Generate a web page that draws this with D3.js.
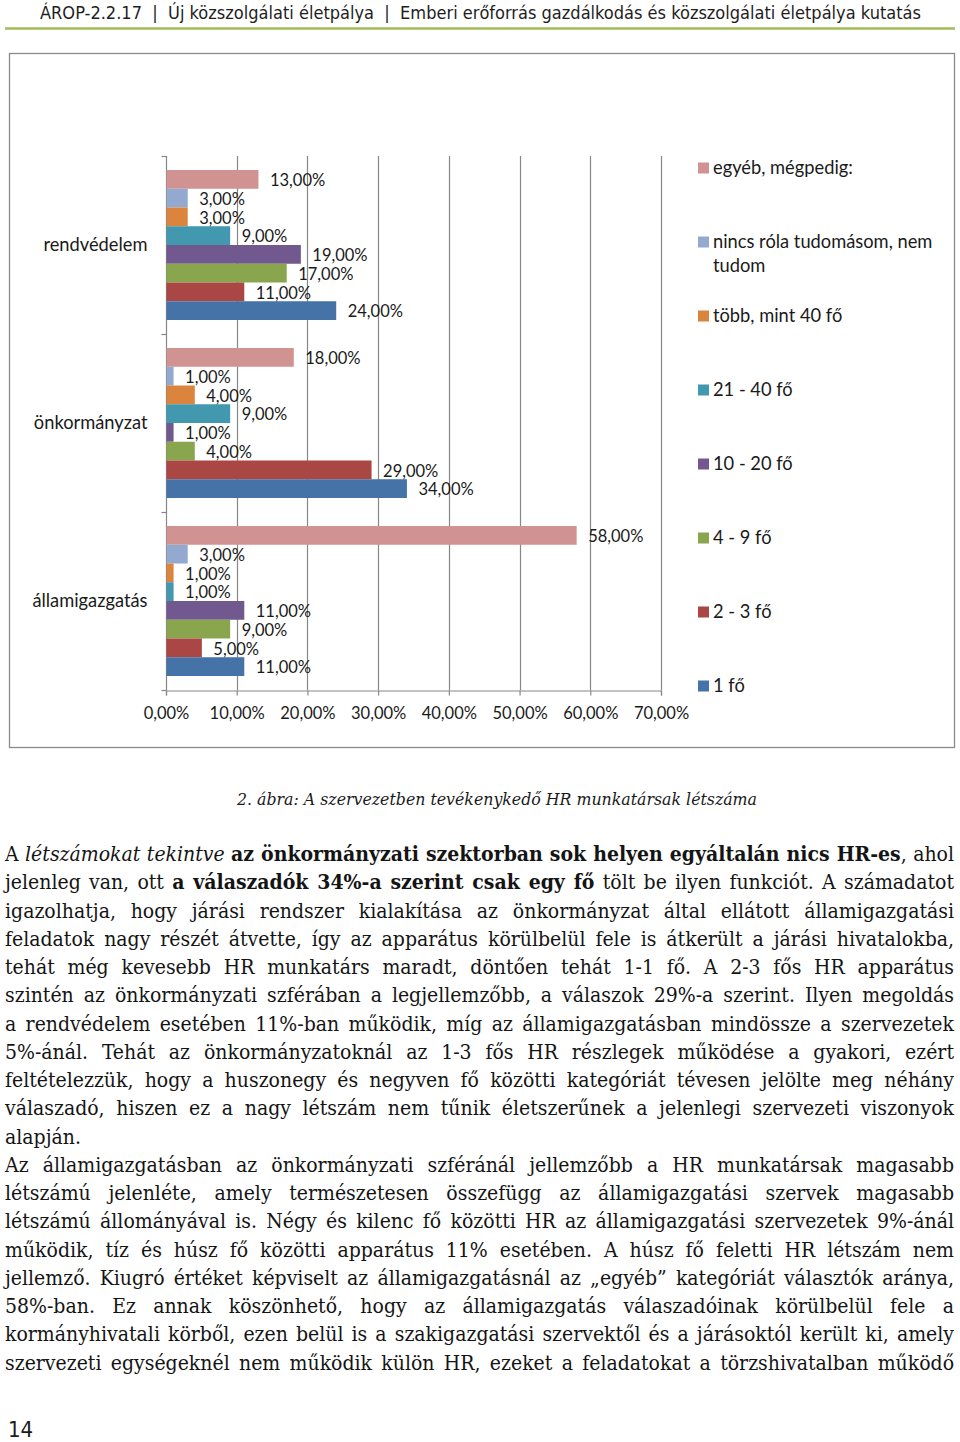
<!DOCTYPE html>
<html><head><meta charset="utf-8">
<script src="https://cdn.jsdelivr.net/npm/d3@7"></script>
<style>
html,body{margin:0;padding:0;background:#fff;}
svg{display:block;}
text{white-space:pre;}
</style></head>
<body>
<script>
// ---------- DATA ----------
const categories = ["rendvédelem", "önkormányzat", "államigazgatás"];
const seriesNames = ["egyéb, mégpedig:", "nincs róla tudomásom, nem tudom", "több, mint 40 fő", "21 - 40 fő", "10 - 20 fő", "4 - 9 fő", "2 - 3 fő", "1 fő"];
const seriesColors = ["#D19392", "#93A9CF", "#DB843D", "#4198AF", "#71588F", "#89A54E", "#AA4643", "#4572A7"];
const egyeb   = [13, 18, 58];
const nincs   = [3, 1, 3];
const tobb40  = [3, 4, 1];
const f21_40  = [9, 9, 1];
const f10_20  = [19, 1, 11];
const f4_9    = [17, 4, 9];
const f2_3    = [11, 29, 5];
const f1      = [24, 34, 11];
const seriesValues = [egyeb, nincs, tobb40, f21_40, f10_20, f4_9, f2_3, f1];
const xTicks = [0, 10, 20, 30, 40, 50, 60, 70];

const headerText = "ÁROP-2.2.17  |  Új közszolgálati életpálya  |  Emberi erőforrás gazdálkodás és közszolgálati életpálya kutatás";
const captionText = "2. ábra: A szervezetben tevékenykedő HR munkatársak létszáma";
const pageNumber = "14";
const bodyLines = [
 [["A ","n"],["létszámokat tekintve","i"],[" ","n"],["az önkormányzati szektorban sok helyen egyáltalán nics HR-es","b"],[", ahol","n"]],
 [["jelenleg van, ott ","n"],["a válaszadók 34%-a szerint csak egy fő","b"],[" tölt be ilyen funkciót. A számadatot","n"]],
 [["igazolhatja, hogy járási rendszer kialakítása az önkormányzat által ellátott államigazgatási","n"]],
 [["feladatok nagy részét átvette, így az apparátus körülbelül fele is átkerült a járási hivatalokba,","n"]],
 [["tehát még kevesebb HR munkatárs maradt, döntően tehát 1-1 fő. A 2-3 fős HR apparátus","n"]],
 [["szintén az önkormányzati szférában a legjellemzőbb, a válaszok 29%-a szerint. Ilyen megoldás","n"]],
 [["a rendvédelem esetében 11%-ban működik, míg az államigazgatásban mindössze a szervezetek","n"]],
 [["5%-ánál. Tehát az önkormányzatoknál az 1-3 fős HR részlegek működése a gyakori, ezért","n"]],
 [["feltételezzük, hogy a huszonegy és negyven fő közötti kategóriát tévesen jelölte meg néhány","n"]],
 [["válaszadó, hiszen ez a nagy létszám nem tűnik életszerűnek a jelenlegi szervezeti viszonyok","n"]],
 [["alapján.","n"]],
 [["Az államigazgatásban az önkormányzati szféránál jellemzőbb a HR munkatársak magasabb","n"]],
 [["létszámú jelenléte, amely természetesen összefügg az államigazgatási szervek magasabb","n"]],
 [["létszámú állományával is. Négy és kilenc fő közötti HR az államigazgatási szervezetek 9%-ánál","n"]],
 [["működik, tíz és húsz fő közötti apparátus 11% esetében. A húsz fő feletti HR létszám nem","n"]],
 [["jellemző. Kiugró értéket képviselt az államigazgatásnál az „egyéb” kategóriát választók aránya,","n"]],
 [["58%-ban. Ez annak köszönhető, hogy az államigazgatás válaszadóinak körülbelül fele a","n"]],
 [["kormányhivatali körből, ezen belül is a szakigazgatási szervektől és a járásoktól került ki, amely","n"]],
 [["szervezeti egységeknél nem működik külön HR, ezeket a feladatokat a törzshivatalban működő","n"]]
];
const paragraphEnds = [10];

// ---------- LAYOUT ----------
const svg = d3.select("body").append("svg").attr("width", 960).attr("height", 1442);
const sansChart = "Lato, 'Open Sans', sans-serif";
const condSans = "'DejaVu Sans Condensed', 'DejaVu Sans', sans-serif";
const serifBody = "'DejaVu Serif Condensed', 'DejaVu Serif', serif";
const labelSize = 18.3, numSize = 16.5;

// header
const hdr = svg.append("text").attr("x", 40).attr("y", 19)
  .attr("font-family", condSans).attr("font-stretch", "condensed")
  .attr("font-size", 17.5).attr("fill", "#1e1e1e").text(headerText);
hdr.attr("textLength", 881).attr("lengthAdjust", "spacingAndGlyphs");
svg.append("line").attr("x1", 5).attr("x2", 955).attr("y1", 28.5).attr("y2", 28.5)
  .attr("stroke", "#a0bc58").attr("stroke-width", 2.5);

// chart frame
svg.append("rect").attr("x", 9.5).attr("y", 53.5).attr("width", 945).attr("height", 694)
  .attr("fill", "#fff").attr("stroke", "#8a8a8a").attr("stroke-width", 1.3);

const x = d3.scaleLinear().domain([0, 70]).range([166, 661]);
const y0 = d3.scaleBand().domain(categories).range([156, 690]).padding(0);
const y1 = d3.scaleBand().domain(seriesNames).range([0, y0.bandwidth()]).paddingInner(0).paddingOuter(0.747);

// gridlines
svg.append("g").selectAll("line").data(xTicks.slice(1)).join("line")
  .attr("x1", d => Math.round(x(d)) + 0.5).attr("x2", d => Math.round(x(d)) + 0.5)
  .attr("y1", 156).attr("y2", 690).attr("stroke", "#878787").attr("stroke-width", 1.2);

// bottom axis
const xAxis = d3.axisBottom(x).tickValues(xTicks).tickSize(5).tickPadding(12)
  .tickFormat(d => d3.format(".2f")(d).replace(".", ",") + "%");
const gx = svg.append("g").attr("transform", "translate(0,690.5)").call(xAxis);
gx.select(".domain").attr("stroke", "#878787").attr("stroke-width", 1.2);
gx.selectAll(".tick line").attr("stroke", "#878787").attr("stroke-width", 1.2);
gx.selectAll(".tick text").attr("font-family", sansChart).attr("font-size", numSize).attr("fill", "#1a1a1a");

// left axis
const gy = svg.append("g").attr("transform", "translate(166.5,0)");
gy.append("line").attr("x1", 0).attr("x2", 0).attr("y1", 156).attr("y2", 690).attr("stroke", "#878787").attr("stroke-width", 1.2);
const boundaries = [156, ...categories.map(c => y0(c) + y0.bandwidth())];
gy.selectAll(".bt").data(boundaries).join("line").attr("class", "bt")
  .attr("x1", -5).attr("x2", 0).attr("y1", d => d + 0.5).attr("y2", d => d + 0.5)
  .attr("stroke", "#878787").attr("stroke-width", 1.2);
gy.selectAll(".cl").data(categories).join("text").attr("class", "cl")
  .attr("x", -19).attr("y", c => y0(c) + y0.bandwidth() / 2)
  .attr("dy", "0.35em").attr("text-anchor", "end")
  .attr("font-family", sansChart).attr("font-size", labelSize).attr("fill", "#1a1a1a").text(c => c);

// bars
const barData = [];
categories.forEach((c, ci) => seriesNames.forEach((s, si) => barData.push({c, s, si, v: seriesValues[si][ci]})));
svg.append("g").selectAll("rect").data(barData).join("rect")
  .attr("x", x(0) + 0.5).attr("y", d => y0(d.c) + y1(d.s))
  .attr("width", d => x(d.v) - x(0)).attr("height", y1.bandwidth())
  .attr("fill", d => seriesColors[d.si]);

// value labels
svg.append("g").selectAll("text").data(barData).join("text")
  .attr("x", d => x(d.v) + 12).attr("y", d => y0(d.c) + y1(d.s) + y1.bandwidth() / 2 + 1)
  .attr("dy", "0.35em").attr("font-family", sansChart).attr("font-size", numSize).attr("fill", "#1a1a1a")
  .text(d => d3.format(".2f")(d.v).replace(".", ",") + "%");

// legend
const legend = svg.append("g");
seriesNames.forEach((s, i) => {
  const ly = 168 + 74 * i;
  legend.append("rect").attr("x", 698).attr("y", ly - 5.5).attr("width", 11).attr("height", 11).attr("fill", seriesColors[i]);
  const t = legend.append("text").attr("x", 713).attr("y", ly).attr("dy", "0.35em")
    .attr("font-family", sansChart).attr("font-size", labelSize).attr("fill", "#1a1a1a");
  const words = s.split(" ");
  let line = [];
  let ts = t.append("tspan").attr("x", 713);
  words.forEach(w => {
    line.push(w);
    ts.text(line.join(" "));
    if (ts.node().getComputedTextLength() > 236 && line.length > 1) {
      line.pop(); ts.text(line.join(" "));
      line = [w];
      ts = t.append("tspan").attr("x", 713).attr("dy", 24).text(w);
    }
  });
});

// caption
svg.append("text").attr("x", 497).attr("y", 805).attr("text-anchor", "middle")
  .attr("font-family", serifBody).attr("font-stretch", "condensed").attr("font-style", "italic")
  .attr("font-size", 16.5).attr("fill", "#1a1a1a").text(captionText)
  .attr("textLength", 520).attr("lengthAdjust", "spacingAndGlyphs");

// body text (justified)
const left = 5, right = 954, target = right - left;
let fs = 18;
const body = svg.append("g");
function drawLine(seg, i, size) {
  const t = body.append("text").attr("x", left).attr("y", 861 + 28.25 * i)
    .attr("font-family", serifBody).attr("font-stretch", "condensed")
    .attr("font-size", size).attr("fill", "#141414");
  seg.forEach(([str, st]) => {
    const ts = t.append("tspan").text(str);
    if (st === "i") ts.attr("font-style", "italic");
    if (st === "b") ts.attr("font-weight", "bold");
  });
  return t;
}
let maxW = 0;
bodyLines.forEach((seg, i) => { const t = drawLine(seg, i, fs); maxW = Math.max(maxW, t.node().getComputedTextLength()); t.remove(); });
fs = Math.min(21, fs * (target - 3) / maxW);
bodyLines.forEach((seg, i) => {
  const t = drawLine(seg, i, fs);
  if (paragraphEnds.includes(i)) return;
  const full = seg.map(s => s[0]).join("");
  const nSp = (full.match(/ /g) || []).length;
  const w = t.node().getComputedTextLength();
  if (nSp > 0) t.attr("word-spacing", (target - w) / nSp);
});

// page number
svg.append("text").attr("x", 8).attr("y", 1437).attr("font-family", condSans).attr("font-stretch", "condensed")
  .attr("font-size", 22).attr("fill", "#1a1a1a").text(pageNumber);
</script>
</body></html>
